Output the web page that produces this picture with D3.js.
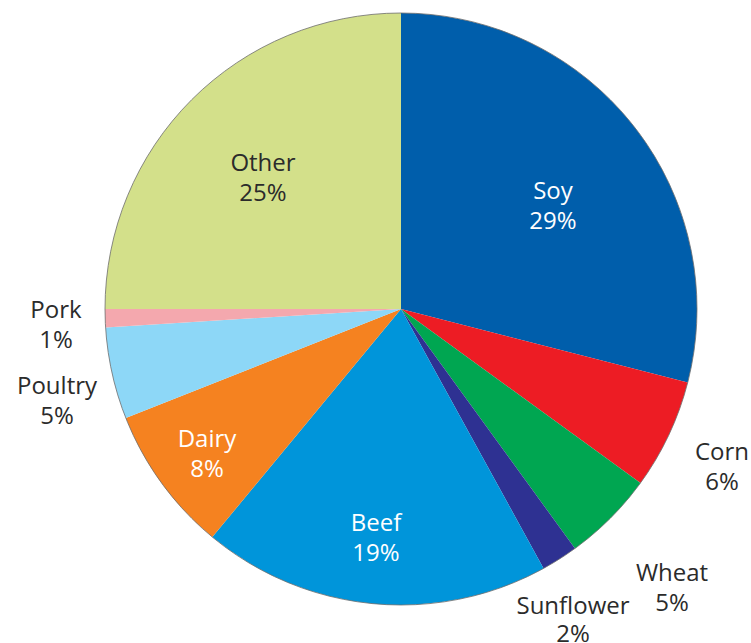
<!DOCTYPE html>
<html>
<head>
<meta charset="utf-8">
<script src="https://cdn.jsdelivr.net/npm/d3@7"></script>
<style>
  html, body { margin: 0; padding: 0; background: #ffffff; }
  svg { display: block; }
</style>
</head>
<body>
<svg id="chart" width="751" height="643"></svg>
<script>
// Share of each source, in percent, clockwise from 12 o'clock
const categories = ["Soy", "Corn", "Wheat", "Sunflower", "Beef", "Dairy", "Poultry", "Pork", "Other"];
const shares = [29, 6, 5, 2, 19, 8, 5, 1, 25];
const sliceColors = ["#005eab", "#ed1c24", "#00a651", "#2e3192", "#0095da", "#f58220", "#8dd7f7", "#f4a8ae", "#d3e08a"];

// Label placement relative to the pie centre: first baseline offset, gap to the second line, text colour
const labelLayout = {
  Soy:       { dx: 152, dy: -110, gap: 30, light: true },
  Corn:      { dx: 321, dy: 151, gap: 30, light: false },
  Wheat:     { dx: 271, dy: 272, gap: 30, light: false },
  Sunflower: { dx: 172, dy: 305, gap: 28, light: false },
  Beef:      { dx: -25, dy: 222, gap: 30, light: true },
  Dairy:     { dx: -194, dy: 138, gap: 30, light: true },
  Poultry:   { dx: -344, dy: 85, gap: 30, light: false },
  Pork:      { dx: -345, dy: 9, gap: 30, light: false },
  Other:     { dx: -138, dy: -138, gap: 30, light: false }
};

const width = 751, height = 643;
const cx = 401, cy = 309, radius = 296;

const data = categories.map((c, i) => ({ name: c, value: shares[i], color: sliceColors[i] }));

const svg = d3.select("#chart");
const g = svg.append("g").attr("transform", `translate(${cx},${cy})`);

const pie = d3.pie().sort(null).value(d => d.value).startAngle(0).endAngle(2 * Math.PI);
const arc = d3.arc().innerRadius(0).outerRadius(radius);

g.selectAll("path.slice")
  .data(pie(data))
  .join("path")
  .attr("class", "slice")
  .attr("d", arc)
  .attr("fill", d => d.data.color);

// faint rim around the disc
g.append("circle")
  .attr("r", radius)
  .attr("fill", "none")
  .attr("stroke", "#6d6d6d")
  .attr("stroke-width", 0.8);

const labels = g.selectAll("text.label")
  .data(data)
  .join("text")
  .attr("class", "label")
  .attr("text-anchor", "middle")
  .attr("font-family", "'Open Sans', sans-serif")
  .attr("font-size", 24)
  .attr("fill", d => labelLayout[d.name].light ? "#ffffff" : "#2b2b2b")
  .attr("transform", d => `translate(${labelLayout[d.name].dx},${labelLayout[d.name].dy})`);

labels.append("tspan").attr("x", 0).attr("y", 0).text(d => d.name);
labels.append("tspan").attr("x", 0).attr("y", d => labelLayout[d.name].gap).text(d => d3.format("d")(d.value) + "%");
</script>
</body>
</html>
